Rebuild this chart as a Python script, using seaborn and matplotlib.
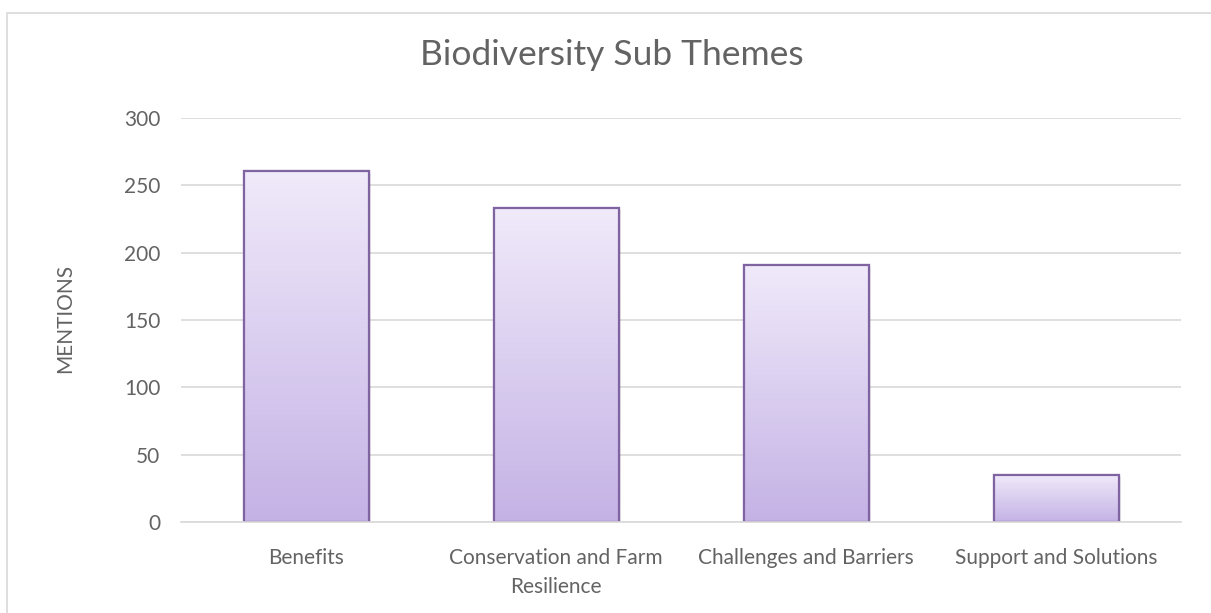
import numpy as np
import pandas as pd
import matplotlib
matplotlib.use("Agg")
import matplotlib.pyplot as plt
import seaborn as sns
from matplotlib.colors import LinearSegmentedColormap
from matplotlib.patches import Rectangle

# data
categories = ["Benefits", "Conservation and Farm\nResilience",
              "Challenges and Barriers", "Support and Solutions"]
mentions = [261, 233, 191, 35]
y_ticks = [0, 50, 100, 150, 200, 250, 300]

TEXT = "#636363"
GRID = "#d9d9d9"

sns.set_theme(style="white")
plt.rcParams["font.family"] = ["Lato", "DejaVu Sans"]

df = pd.DataFrame({"cat": categories, "n": mentions})

fig = plt.figure(figsize=(12.11, 6.13), dpi=100)
ax = fig.add_axes([181 / 1211, 1 - 522 / 613, 1000 / 1211, 404 / 613])

sns.barplot(data=df, x="cat", y="n", ax=ax, width=0.5,
            color="#d9cbef", edgecolor="#8064a2", linewidth=1.5, zorder=2)

# vertical gradient fill inside each bar
grad = LinearSegmentedColormap.from_list("lav", ["#c4b2e5", "#f0eafa"])
g = np.linspace(0, 1, 256).reshape(-1, 1)
for p in ax.patches:
    x0, y0, w, h = p.get_x(), p.get_y(), p.get_width(), p.get_height()
    # soft shadow
    ax.add_patch(Rectangle((x0 + 0.008, y0), w, h - 1.5, facecolor="#000000",
                           alpha=0.08, edgecolor="none", zorder=1.5))
    im = ax.imshow(g, cmap=grad, aspect="auto", origin="lower",
                   extent=(x0, x0 + w, y0, y0 + h), zorder=2.1)
    im.set_clip_path(p)
    ax.add_patch(Rectangle((x0, y0), w, h, facecolor="none",
                           edgecolor="#8064a2", linewidth=1.6, zorder=2.2))

ax.set_xlim(-0.5, len(categories) - 0.5)
ax.set_ylim(0, 300)
ax.set_yticks(y_ticks)
ax.yaxis.grid(True, color=GRID, linewidth=1.2, zorder=0)
ax.set_axisbelow(True)
for s in ["top", "right", "left"]:
    ax.spines[s].set_visible(False)
ax.spines["bottom"].set_color(GRID)
ax.spines["bottom"].set_linewidth(1.2)

ax.tick_params(axis="both", length=0, labelsize=15, labelcolor=TEXT)
ax.tick_params(axis="y", pad=15)
ax.tick_params(axis="x", pad=19)
for lbl in ax.get_xticklabels():
    lbl.set_linespacing(1.55)
ax.set_xlabel("")
ax.set_ylabel("")
fig.text(65 / 1211, 1 - 318 / 613, "MENTIONS", rotation=90, ha="center",
         va="center", fontsize=15, color=TEXT)

fig.text(612 / 1211, 1 - 55 / 613, "Biodiversity Sub Themes", ha="center",
         va="center", fontsize=25.5, color=TEXT)

# chart border
fig.add_artist(Rectangle((7 / 1211, -0.01), 1.2, 1 - 13 / 613 + 0.01,
                         transform=fig.transFigure, facecolor="none",
                         edgecolor="#d9d9d9", linewidth=1.2))

fig.savefig("out.png", dpi=100)
